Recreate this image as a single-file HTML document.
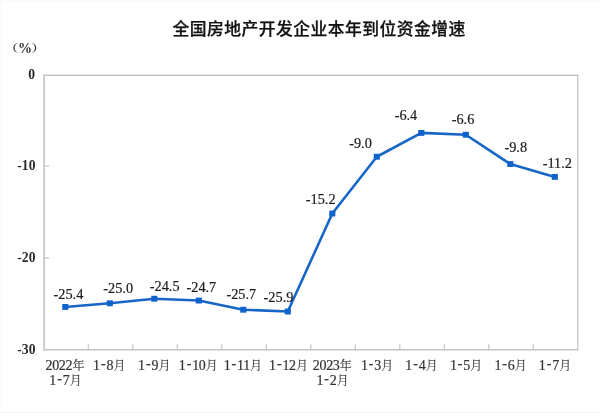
<!DOCTYPE html>
<html lang="zh"><head><meta charset="utf-8"><title>全国房地产开发企业本年到位资金增速</title>
<style>
html,body{margin:0;padding:0;background:#fff;}
body{width:600px;height:413px;overflow:hidden;}
svg{display:block}
text{text-anchor:middle}
.t{font-family:"Liberation Sans","Noto Sans CJK SC",sans-serif;font-size:16.8px;letter-spacing:0.48px;font-weight:500;fill:#111;stroke:#111;stroke-width:0.25px;}
.pc{font-family:"Liberation Serif","Noto Serif CJK SC",serif;font-size:14px;font-weight:bold;fill:#333;}
.par{font-family:"Liberation Serif","Noto Serif CJK SC",serif;font-size:10.3px;font-weight:bold;fill:#333;}
.yl{font-family:"Liberation Serif","Noto Serif CJK SC",serif;font-size:13.6px;font-weight:bold;fill:#2b2b2b;}
.dl{font-family:"Liberation Serif","Noto Serif CJK SC",serif;font-size:14.3px;fill:#1c1c1c;stroke:#1c1c1c;stroke-width:0.2px}
.xl{font-family:"Liberation Serif","Noto Serif CJK SC",serif;font-size:14px;letter-spacing:-0.33px;fill:#333;stroke:#333;stroke-width:0.2px}
.cj{font-size:12px;letter-spacing:0;stroke-width:0.1px}
</style></head><body>
<svg width="600" height="413" viewBox="0 0 600 413">
<rect x="0" y="0" width="600" height="413" fill="#fff"/>
<rect x="0" y="0" width="600" height="1" fill="#fafafa"/>
<rect x="0" y="0" width="1" height="413" fill="#f9f9f9"/>
<rect x="0" y="411.8" width="600" height="1.2" fill="#f5f5f5"/>
<path d="M44.1 75.25H577.7V349.8" fill="none" stroke="#c4c4c4" stroke-width="1.3"/>
<path d="M44.1 74.6V349.8H578.35" fill="none" stroke="#c4c4c4" stroke-width="1.6" stroke-linejoin="miter"/>
<line x1="88.30" y1="349.8" x2="88.30" y2="344.2" stroke="#c4c4c4" stroke-width="1.2"/>
<line x1="132.80" y1="349.8" x2="132.80" y2="344.2" stroke="#c4c4c4" stroke-width="1.2"/>
<line x1="177.30" y1="349.8" x2="177.30" y2="344.2" stroke="#c4c4c4" stroke-width="1.2"/>
<line x1="221.80" y1="349.8" x2="221.80" y2="344.2" stroke="#c4c4c4" stroke-width="1.2"/>
<line x1="266.30" y1="349.8" x2="266.30" y2="344.2" stroke="#c4c4c4" stroke-width="1.2"/>
<line x1="310.80" y1="349.8" x2="310.80" y2="344.2" stroke="#c4c4c4" stroke-width="1.2"/>
<line x1="355.30" y1="349.8" x2="355.30" y2="344.2" stroke="#c4c4c4" stroke-width="1.2"/>
<line x1="399.80" y1="349.8" x2="399.80" y2="344.2" stroke="#c4c4c4" stroke-width="1.2"/>
<line x1="444.30" y1="349.8" x2="444.30" y2="344.2" stroke="#c4c4c4" stroke-width="1.2"/>
<line x1="488.80" y1="349.8" x2="488.80" y2="344.2" stroke="#c4c4c4" stroke-width="1.2"/>
<line x1="533.30" y1="349.8" x2="533.30" y2="344.2" stroke="#c4c4c4" stroke-width="1.2"/>
<line x1="44.1" y1="166.10" x2="49.0" y2="166.10" stroke="#c4c4c4" stroke-width="1.2"/>
<line x1="44.1" y1="258.00" x2="49.0" y2="258.00" stroke="#c4c4c4" stroke-width="1.2"/>
<polyline fill="none" stroke="#1766c6" stroke-width="2.6" stroke-linejoin="round" points="65.30,306.96 109.80,303.30 154.30,298.72 198.80,300.55 243.30,309.71 287.80,311.54 332.30,213.53 376.80,156.74 421.30,132.92 465.80,134.76 510.30,164.07 554.80,176.89"/>
<rect x="62.25" y="304.01" width="6.1" height="5.9" fill="#0f61cc"/>
<rect x="106.75" y="300.35" width="6.1" height="5.9" fill="#0f61cc"/>
<rect x="151.25" y="295.77" width="6.1" height="5.9" fill="#0f61cc"/>
<rect x="195.75" y="297.60" width="6.1" height="5.9" fill="#0f61cc"/>
<rect x="240.25" y="306.76" width="6.1" height="5.9" fill="#0f61cc"/>
<rect x="284.75" y="308.59" width="6.1" height="5.9" fill="#0f61cc"/>
<rect x="329.25" y="210.58" width="6.1" height="5.9" fill="#0f61cc"/>
<rect x="373.75" y="153.79" width="6.1" height="5.9" fill="#0f61cc"/>
<rect x="418.25" y="129.97" width="6.1" height="5.9" fill="#0f61cc"/>
<rect x="462.75" y="131.81" width="6.1" height="5.9" fill="#0f61cc"/>
<rect x="507.25" y="161.12" width="6.1" height="5.9" fill="#0f61cc"/>
<rect x="551.75" y="173.94" width="6.1" height="5.9" fill="#0f61cc"/>
<text id="title" class="t" x="319.15" y="34.85">全国房地产开发企业本年到位资金增速</text>
<text id="pl" class="par" transform="translate(11.48 52.05) scale(1.3 1)">（</text>
<text id="pct" class="pc" x="25.05" y="53.25">%</text>
<text id="pr" class="par" transform="translate(38.27 52.05) scale(1.3 1)">）</text>
<text id="y0" class="yl" x="31.65" y="78.97">0</text>
<text id="y10" class="yl" x="26.40" y="169.92">-10</text>
<text id="y20" class="yl" x="26.40" y="261.82">-20</text>
<text id="y30" class="yl" x="26.40" y="353.78">-30</text>
<text id="d0" class="dl" x="68.40" y="299.43">-25.4</text>
<text id="d1" class="dl" x="118.17" y="292.95">-25.0</text>
<text id="d2" class="dl" x="164.65" y="291.18">-24.5</text>
<text id="d3" class="dl" x="201.38" y="292.12">-24.7</text>
<text id="d4" class="dl" x="241.35" y="299.42">-25.7</text>
<text id="d5" class="dl" x="278.47" y="301.93">-25.9</text>
<text id="d6" class="dl" x="320.70" y="203.68">-15.2</text>
<text id="d7" class="dl" x="360.53" y="147.75">-9.0</text>
<text id="d8" class="dl" x="405.97" y="120.32">-6.4</text>
<text id="d9" class="dl" x="463.00" y="123.68">-6.6</text>
<text id="d10" class="dl" x="515.78" y="152.25">-9.8</text>
<text id="d11" class="dl" x="557.28" y="168.42">-11.2</text>
<text id="x0_0" class="xl" x="65.00" y="369.70">2022<tspan class="cj" dx="0.3">年</tspan></text>
<text id="x0_1" class="xl" x="65.50" y="385.20">1<tspan dx="1.17" dy="-2.2">-</tspan><tspan dx="1.17" dy="2.2">7</tspan><tspan class="cj" dx="0.3">月</tspan></text>
<text id="x1_0" class="xl" x="109.25" y="369.70">1<tspan dx="1.17" dy="-2.2">-</tspan><tspan dx="1.17" dy="2.2">8</tspan><tspan class="cj" dx="0.3">月</tspan></text>
<text id="x2_0" class="xl" x="154.25" y="369.70">1<tspan dx="1.17" dy="-2.2">-</tspan><tspan dx="1.17" dy="2.2">9</tspan><tspan class="cj" dx="0.3">月</tspan></text>
<text id="x3_0" class="xl" x="198.35" y="369.70">1<tspan dx="1.17" dy="-2.2">-</tspan><tspan dx="1.17" dy="2.2">10</tspan><tspan class="cj" dx="0.3">月</tspan></text>
<text id="x4_0" class="xl" x="242.88" y="369.70">1<tspan dx="1.17" dy="-2.2">-</tspan><tspan dx="1.17" dy="2.2">11</tspan><tspan class="cj" dx="0.3">月</tspan></text>
<text id="x5_0" class="xl" x="288.60" y="369.70">1<tspan dx="1.17" dy="-2.2">-</tspan><tspan dx="1.17" dy="2.2">12</tspan><tspan class="cj" dx="0.3">月</tspan></text>
<text id="x6_0" class="xl" x="332.33" y="369.70">2023<tspan class="cj" dx="0.3">年</tspan></text>
<text id="x6_1" class="xl" x="332.65" y="385.20">1<tspan dx="1.17" dy="-2.2">-</tspan><tspan dx="1.17" dy="2.2">2</tspan><tspan class="cj" dx="0.3">月</tspan></text>
<text id="x7_0" class="xl" x="377.17" y="369.70">1<tspan dx="1.17" dy="-2.2">-</tspan><tspan dx="1.17" dy="2.2">3</tspan><tspan class="cj" dx="0.3">月</tspan></text>
<text id="x8_0" class="xl" x="421.47" y="369.70">1<tspan dx="1.17" dy="-2.2">-</tspan><tspan dx="1.17" dy="2.2">4</tspan><tspan class="cj" dx="0.3">月</tspan></text>
<text id="x9_0" class="xl" x="466.08" y="369.70">1<tspan dx="1.17" dy="-2.2">-</tspan><tspan dx="1.17" dy="2.2">5</tspan><tspan class="cj" dx="0.3">月</tspan></text>
<text id="x10_0" class="xl" x="510.65" y="369.70">1<tspan dx="1.17" dy="-2.2">-</tspan><tspan dx="1.17" dy="2.2">6</tspan><tspan class="cj" dx="0.3">月</tspan></text>
<text id="x11_0" class="xl" x="554.97" y="369.70">1<tspan dx="1.17" dy="-2.2">-</tspan><tspan dx="1.17" dy="2.2">7</tspan><tspan class="cj" dx="0.3">月</tspan></text>
</svg></body></html>
